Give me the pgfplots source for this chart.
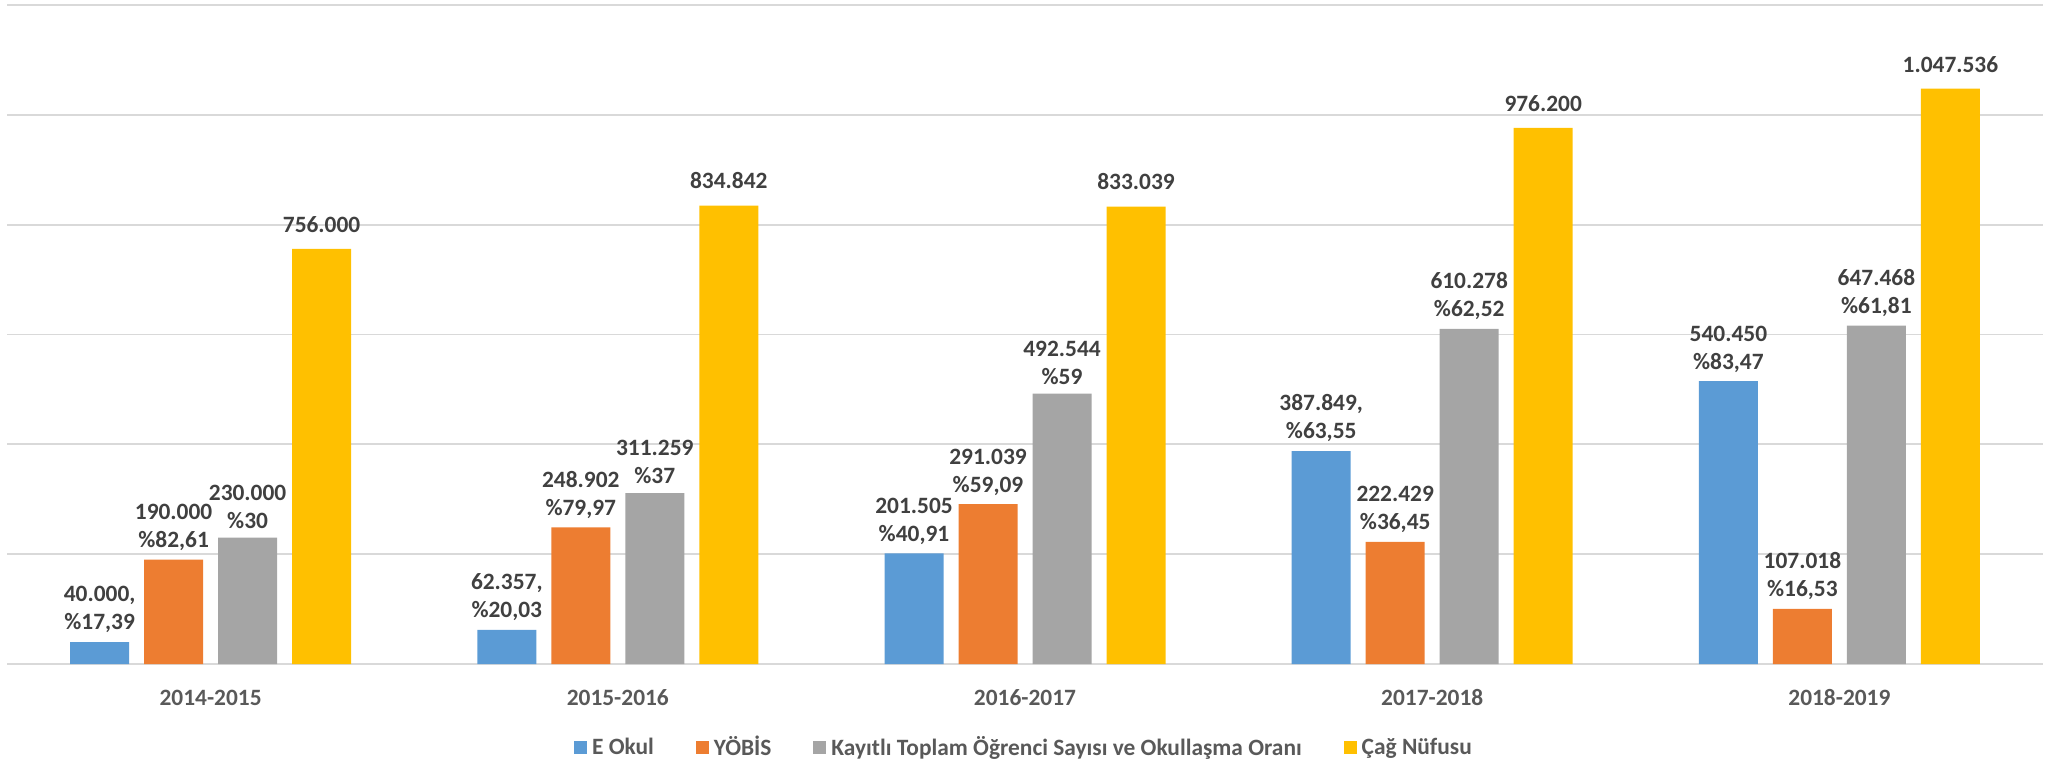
\documentclass[border=0pt]{standalone}
\usepackage{pgfplots}
\pgfplotsset{compat=1.18}
\usepackage{fontspec}
\setmainfont{Carlito}
\definecolor{cblue}{HTML}{5B9BD5}
\definecolor{corange}{HTML}{ED7D31}
\definecolor{cgray}{HTML}{A5A5A5}
\definecolor{cyellow}{HTML}{FFC000}
\definecolor{gridc}{HTML}{D9D9D9}
\definecolor{lblc}{HTML}{404040}
\definecolor{tickc}{HTML}{595959}
\newcommand{\lblfont}{\fontsize{11.7}{14}\selectfont\bfseries}
\begin{document}
\begin{tikzpicture}
\begin{axis}[
  scale only axis,
  width=1018pt, height=329.5pt,
  xmin=-0.5, xmax=4.5, ymin=0, ymax=1200000,
  ybar, bar width=29.5pt,
  clip=false,
  axis line style={draw=none},
  tick style={draw=none},
  ytick={0,200000,400000,600000,800000,1000000,1200000},
  yticklabels={},
  ymajorgrids,
  grid style={color=gridc, line width=0.9pt},
  xtick={0,1,2,3,4},
  xticklabels={2014-2015,2015-2016,2016-2017,2017-2018,2018-2019},
  xticklabel style={font=\lblfont, text=tickc, anchor=center, yshift=-12.7pt},
  point meta=explicit symbolic,
  nodes near coords={\pgfplotspointmeta},
  nodes near coords style={font=\lblfont, text=lblc, align=center, anchor=south, inner sep=2pt, yshift=2.3pt},
  legend columns=4,
  legend style={at={(0.5,0)}, anchor=center, yshift=-41.8pt, draw=none, fill=none,
    font=\lblfont, text=tickc,
    /tikz/every odd column/.append style={column sep=0.5pt},
    /tikz/every even column/.append style={column sep=19pt},
    nodes={inner sep=2pt}},
  legend image code/.code={\fill[#1] (0pt,-3.25pt) rectangle (6.5pt,3.25pt);},
]
\addplot[fill=cblue, draw=none, bar shift=-55.5pt] coordinates {
  (0,40000) [{40.000,\\\%17,39}]
  (1,62357) [{62.357,\\\%20,03}]
  (2,201505) [{201.505\\\%40,91}]
  (3,387849) [{387.849,\\\%63,55}]
  (4,515000) [{540.450\\\%83,47}]
};
\addlegendentry{E Okul}
\addplot[fill=corange, draw=none, bar shift=-18.5pt] coordinates {
  (0,190000) [{190.000\\\%82,61}]
  (1,248902) [{248.902\\\%79,97}]
  (2,291039) [{291.039\\\%59,09}]
  (3,222429) [{222.429\\\%36,45}]
  (4,100500) [{107.018\\\%16,53}]
};
\addlegendentry{YÖBİS}
\addplot[fill=cgray, draw=none, bar shift=18.5pt] coordinates {
  (0,230000) [{230.000\\\%30}]
  (1,311259) [{311.259\\\%37}]
  (2,492544) [{492.544\\\%59}]
  (3,610278) [{610.278\\\%62,52}]
  (4,616000) [{647.468\\\%61,81}]
};
\addlegendentry{Kayıtlı Toplam Öğrenci Sayısı ve Okullaşma Oranı}
\addplot[fill=cyellow, draw=none, bar shift=55.5pt,
  every node near coord/.append style={yshift=3.7pt}] coordinates {
  (0,756000) [{756.000}]
  (1,834842) [{834.842}]
  (2,833039) [{833.039}]
  (3,976200) [{976.200}]
  (4,1047536) [{1.047.536}]
};
\addlegendentry{Çağ Nüfusu}
\end{axis}
\pgfresetboundingbox
\path (current axis.south west) ++(-3.5pt,-47.5pt) coordinate (bl);
\path (current axis.north east) ++(3pt,2.5pt) coordinate (tr);
\path[use as bounding box] (bl) rectangle (tr);
\end{tikzpicture}
\end{document}
